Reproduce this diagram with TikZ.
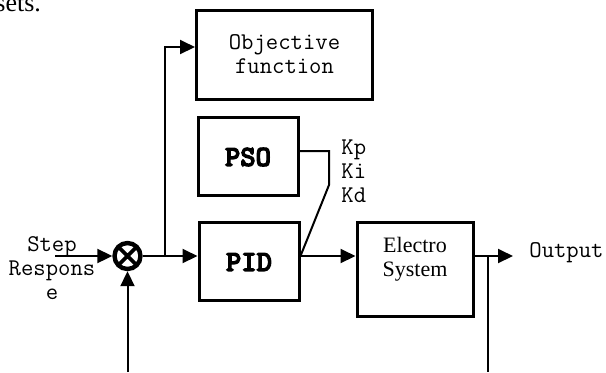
\documentclass[tikz,border=0pt]{standalone}
\usepackage{fontspec}
\setmainfont{Liberation Serif}
\newfontfamily\ttbold[Extension=.otf,FakeBold=4]{lmmonolt10-bold}
\usetikzlibrary{arrows.meta,calc}
\begin{document}
\begin{tikzpicture}[x=0.5pt,y=-0.5pt,
  box/.style={draw,line width=1.5pt,inner sep=0pt,rectangle},
  mono/.style={font=\fontsize{12pt}{12pt}\selectfont\ttfamily,inner sep=0pt,align=center},
  bmono/.style={font=\fontsize{14.6pt}{15pt}\selectfont\ttbold,inner sep=0pt},
  serif/.style={font=\fontsize{11pt}{12pt}\selectfont\rmfamily,inner sep=0pt,align=center},
  conn/.style={line width=1pt},
  arr/.style={line width=1pt,-{Triangle[length=7.5pt,width=7pt]}}]
\useasboundingbox (0,0) rectangle (606,372);
% cropped text fragment
\node[font=\fontsize{13pt}{13pt}\selectfont\rmfamily,inner sep=0pt,anchor=base west] (frag) at (-5,11) {sets.};
% boxes
\node[box,minimum width=88pt,minimum height=44.5pt] (obj) at (284.5,55) {};
\node[mono] (objtxt) at (284.5,54.5) {Objective\\function};
\node[box,minimum width=50pt,minimum height=39pt] (pso) at (248,156) {};
\node[bmono] (psotxt) at (248,157) {PSO};
\node[box,minimum width=50pt,minimum height=39pt] (pid) at (249,261) {};
\node[bmono] (pidtxt) at (249,262) {PID};
\node[box,minimum width=58pt,minimum height=47pt] (elec) at (415,269) {};
\node[serif] (electxt) at (415,259) {Electro\\System};
% summing junction
\node[circle,draw,line width=2.2pt,minimum size=13pt,inner sep=0pt,
  path picture={\draw[line width=1.8pt] (path picture bounding box.north west) -- (path picture bounding box.south east)
     (path picture bounding box.north east) -- (path picture bounding box.south west);}] (sum) at (127.5,256) {};
% texts
\node[mono] (step) at (52,268) {Step\\Respons\\e};
\node[mono,anchor=west,align=left] (gains) at (341,171) {Kp\\Ki\\Kd};
\node[mono,anchor=west] (out) at (529,253) {Output};
% coordinates
\coordinate (inS) at (55,256);
\coordinate (br) at (165,256);
\coordinate (brtop) at (165,47);
\coordinate (fbL) at (127.5,372);
\coordinate (pidout) at (pid.east |- sum);
\coordinate (p1) at (pso.east |- 0,151);
\coordinate (p2) at (329,151);
\coordinate (p3) at (329,185);
\coordinate (outend) at (513,256);
\coordinate (fbR1) at (488,256);
\coordinate (fbR2) at (488,372);
% connectors
\draw[arr] (inS) -- (sum.west);
\draw[arr] (sum.east) -- (pid.west |- sum);
\draw[arr] (br) -- (brtop) -- (obj.west |- brtop);
\draw[arr] (fbL) -- (sum.south);
\draw[arr] (pidout) -- (elec.west |- sum);
\draw[conn] (p1) -- (p2) -- (p3) -- (pidout);
\draw[arr] (elec.east |- sum) -- (outend);
\draw[conn] (fbR1) -- (fbR2);
\end{tikzpicture}
\end{document}
